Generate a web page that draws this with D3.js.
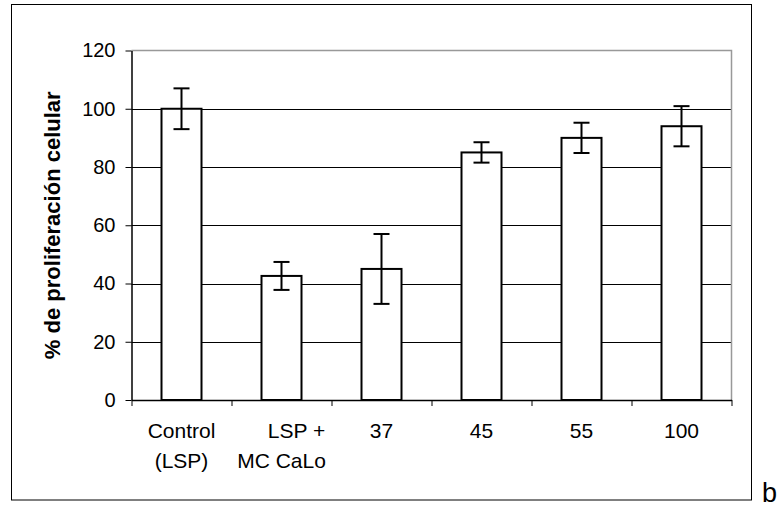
<!DOCTYPE html>
<html>
<head>
<meta charset="utf-8">
<script src="https://cdn.jsdelivr.net/npm/d3@7"></script>
<style>
  body { margin: 0; background: #fff; }
  text { font-family: "Liberation Sans", Arial, sans-serif; fill: #000; }
</style>
</head>
<body>
<div id="chart"></div>
<script>
// data
var categories = [["Control", "(LSP)"], ["LSP +", "MC CaLo"], ["37"], ["45"], ["55"], ["100"]];
var values = [100, 42.6, 45, 85, 90, 94];
var errors = [7, 4.8, 12, 3.5, 5.2, 6.9];
var yTicks = [0, 20, 40, 60, 80, 100, 120];

var svgWidth = 781;
var svgHeight = 509;

var plot = { left: 131.5, right: 731.5, top: 50.5, bottom: 400 };

var svg = d3.select("#chart")
    .append("svg")
    .attr("width", svgWidth)
    .attr("height", svgHeight);

// outer frame
svg.append("rect")
    .attr("x", 11.5)
    .attr("y", 4.5)
    .attr("width", 740)
    .attr("height", 495.5)
    .attr("fill", "none")
    .attr("stroke", "#000")
    .attr("stroke-width", 1);

var idx = d3.range(values.length);

var x = d3.scaleBand()
    .domain(idx)
    .range([plot.left, plot.right])
    .paddingInner(0.6)
    .paddingOuter(0.3);

var xEdge = d3.scaleLinear()
    .domain([0, values.length])
    .range([plot.left, plot.right]);

var y = d3.scaleLinear()
    .domain([0, 120])
    .range([plot.bottom, plot.top]);

// gridlines
svg.append("g")
    .selectAll("line")
    .data(yTicks.filter(d => d > 0 && d < 120))
    .enter()
    .append("line")
    .attr("x1", plot.left)
    .attr("x2", plot.right)
    .attr("y1", d => Math.round(y(d)) + 0.5)
    .attr("y2", d => Math.round(y(d)) + 0.5)
    .attr("stroke", "#000")
    .attr("stroke-width", 1);

// plot area border (top and right, grey)
svg.append("path")
    .attr("d", `M${plot.left},${y(120)}H${plot.right}V${plot.bottom}`)
    .attr("fill", "none")
    .attr("stroke", "#999")
    .attr("stroke-width", 1.5);

// bars
svg.append("g")
    .selectAll("rect")
    .data(idx)
    .enter()
    .append("rect")
    .attr("x", i => x(i))
    .attr("y", i => y(values[i]))
    .attr("width", x.bandwidth())
    .attr("height", i => y(0) - y(values[i]))
    .attr("fill", "#fff")
    .attr("stroke", "#000")
    .attr("stroke-width", 2);

// error bars
var errG = svg.append("g")
    .attr("stroke", "#000")
    .attr("stroke-width", 2);

idx.forEach(i => {
    var cx = x(i) + x.bandwidth() / 2;
    var hi = y(values[i] + errors[i]);
    var lo = y(values[i] - errors[i]);
    errG.append("line").attr("x1", cx).attr("x2", cx).attr("y1", hi).attr("y2", lo);
    errG.append("line").attr("x1", cx - 8).attr("x2", cx + 8).attr("y1", hi).attr("y2", hi);
    errG.append("line").attr("x1", cx - 8).attr("x2", cx + 8).attr("y1", lo).attr("y2", lo);
});

// y axis
var yAxis = svg.append("g")
    .attr("transform", `translate(${plot.left}, 0)`)
    .call(d3.axisLeft(y).tickValues(yTicks).tickSize(6).tickSizeOuter(0).tickPadding(10));
yAxis.select(".domain").attr("stroke-width", 1.5);
yAxis.selectAll("text")
    .style("font-size", "20px")
    .style("font-family", "'Liberation Sans', Arial, sans-serif");

// x axis (ticks at category edges)
var xAxis = svg.append("g")
    .attr("transform", `translate(0, ${plot.bottom})`)
    .call(d3.axisBottom(xEdge).tickValues(d3.range(values.length + 1)).tickFormat("").tickSize(6).tickSizeOuter(0));
xAxis.select(".domain").attr("stroke-width", 1.5);

// category labels
var catG = svg.append("g");
idx.forEach(i => {
    var t = catG.append("text")
        .attr("text-anchor", "middle")
        .style("font-size", "21px")
        .attr("y", 438);
    categories[i].forEach((line, j) => {
        t.append("tspan")
            .attr("x", x(i) + x.bandwidth() / 2 + (line === "LSP +" ? 15 : 0))
            .attr("dy", j === 0 ? 0 : 30)
            .text(line);
    });
});

// y label
svg.append("text")
    .attr("transform", `translate(60, ${(plot.top + plot.bottom) / 2}) rotate(-90)`)
    .attr("text-anchor", "middle")
    .style("font-size", "22px")
    .style("font-weight", "bold")
    .text("% de proliferación celular");

// panel letter
svg.append("text")
    .attr("x", 762)
    .attr("y", 502)
    .style("font-size", "27px")
    .text("b");
</script>
</body>
</html>
